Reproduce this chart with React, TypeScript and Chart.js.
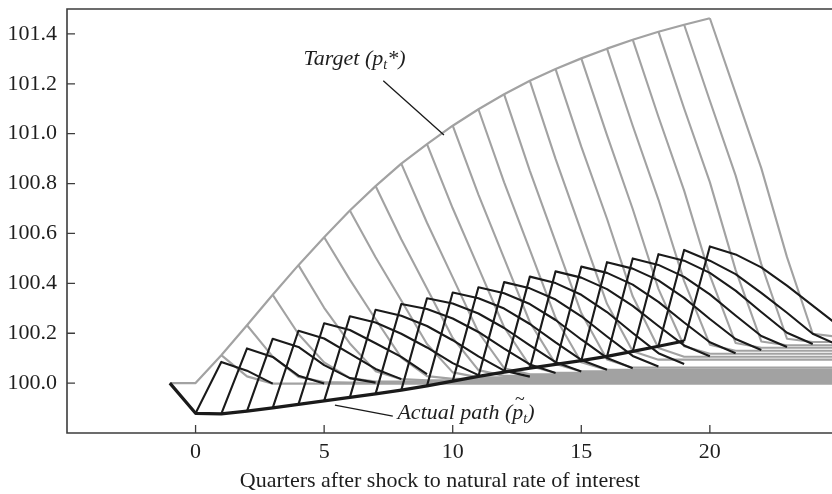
import { useEffect, useRef } from 'react';
import { Chart, registerables } from 'chart.js';

Chart.register(...registerables);

// ---- data ----
const targetStart = -1;
const targetPath = [
  100.0, 100.0, 100.112, 100.232, 100.354, 100.473, 100.585, 100.692, 100.79, 100.88,
  100.958, 101.032, 101.098, 101.158, 101.212, 101.259, 101.302, 101.341, 101.377,
  101.409, 101.437, 101.463,
];

const actualStart = -1;
const actualPath = [
  100.0, 99.879, 99.877, 99.888, 99.901, 99.915, 99.929, 99.943, 99.957, 99.972,
  99.989, 100.008, 100.027, 100.044, 100.06, 100.075, 100.09, 100.107, 100.127,
  100.148, 100.169,
];

// Forecasts of the target made in quarter 1, 2, ... 20 (first value = target that quarter)
const targetForecastStart = 1;
const targetForecasts = [
  [100.112, 100.027, 99.998],
  [100.232, 100.106, 100.025, 100.004, 100.002],
  [100.354, 100.197, 100.083, 100.02, 100.006],
  [100.473, 100.302, 100.159, 100.048, 100.016, 100.011],
  [100.585, 100.415, 100.256, 100.102, 100.028, 100.017],
  [100.692, 100.505, 100.331, 100.157, 100.043, 100.023],
  [100.79, 100.577, 100.379, 100.181, 100.052, 100.029],
  [100.88, 100.643, 100.424, 100.204, 100.06, 100.035],
  [100.958, 100.701, 100.463, 100.224, 100.069, 100.041],
  [101.032, 100.756, 100.5, 100.244, 100.077, 100.047],
  [101.098, 100.805, 100.534, 100.262, 100.084, 100.053],
  [101.158, 100.851, 100.566, 100.281, 100.095, 100.062],
  [101.212, 100.899, 100.608, 100.318, 100.128, 100.094],
  [101.259, 100.948, 100.659, 100.348, 100.141, 100.106],
  [101.302, 100.994, 100.698, 100.378, 100.148, 100.118],
  [101.341, 101.032, 100.736, 100.409, 100.154, 100.13],
  [101.377, 101.068, 100.772, 100.432, 100.161, 100.142],
  [101.409, 101.101, 100.806, 100.454, 100.167, 100.152],
  [101.437, 101.132, 100.833, 100.477, 100.178, 100.165],
  [101.463, 101.163, 100.862, 100.505, 100.198, 100.185],
];

// Forecasts of the price level made in quarter 0, 1, ... 19 (first value = actual price);
// each is drawn until it meets the flat forecast lines
const priceForecastStart = 0;
const priceForecasts = [
  [99.879, 100.085, 100.05, 99.998],
  [99.877, 100.139, 100.105, 100.03, 99.998],
  [99.888, 100.178, 100.145, 100.072, 100.02, 100.002],
  [99.901, 100.21, 100.179, 100.118, 100.057, 100.016],
  [99.915, 100.24, 100.213, 100.16, 100.105, 100.036],
  [99.929, 100.268, 100.243, 100.198, 100.143, 100.08, 100.032],
  [99.943, 100.294, 100.27, 100.229, 100.172, 100.107, 100.05, 100.026],
  [99.957, 100.317, 100.297, 100.259, 100.205, 100.138, 100.075, 100.041],
  [99.972, 100.34, 100.319, 100.279, 100.221, 100.151, 100.084, 100.047],
  [99.989, 100.363, 100.34, 100.299, 100.237, 100.163, 100.093, 100.054],
  [100.008, 100.384, 100.36, 100.317, 100.253, 100.175, 100.101, 100.06],
  [100.027, 100.405, 100.38, 100.335, 100.268, 100.187, 100.109, 100.067],
  [100.044, 100.427, 100.401, 100.354, 100.285, 100.201, 100.12, 100.077],
  [100.06, 100.448, 100.423, 100.377, 100.31, 100.229, 100.151, 100.108],
  [100.075, 100.467, 100.442, 100.395, 100.326, 100.243, 100.164, 100.12],
  [100.09, 100.485, 100.459, 100.412, 100.342, 100.257, 100.177, 100.133],
  [100.107, 100.5, 100.474, 100.426, 100.356, 100.271, 100.189, 100.145],
  [100.127, 100.517, 100.491, 100.442, 100.371, 100.285, 100.202, 100.157],
  [100.148, 100.534, 100.491, 100.437, 100.362, 100.282, 100.198, 100.152],
  [100.169, 100.548, 100.516, 100.464, 100.391, 100.311, 100.23],
];

const horizonEnd = 25; // target forecasts stay flat at their last value to this quarter
const xTicks = [0, 5, 10, 15, 20];
const yTicks = [100.0, 100.2, 100.4, 100.6, 100.8, 101.0, 101.2, 101.4];
const xTitle = 'Quarters after shock to natural rate of interest';
const targetLabel = ['Target (', 'p', 't', '*)'];
const actualLabel = ['Actual path (', 'p', 't', ')'];

// ---- styling ----
const GRAY = '#a2a2a2';
const BLACK = '#1a1a1a';
const AXIS = '#3c3c3c';
const TEXT = '#1e1e1e';
const FONT = '"Liberation Serif", "DejaVu Serif", serif';

function toPoints(start: number, values: number[], extend: boolean) {
  const pts = values.map((v, i) => ({ x: start + i, y: v }));
  const lastX = start + values.length - 1;
  if (extend && lastX < horizonEnd) pts.push({ x: horizonEnd, y: values[values.length - 1] });
  return pts;
}

function drawParts(ctx: CanvasRenderingContext2D, x: number, y: number, parts: { t: string; size: number; dy: number; tilde?: boolean }[]) {
  let cx = x;
  for (const p of parts) {
    ctx.font = `italic ${p.size}px ${FONT}`;
    ctx.fillText(p.t, cx, y + p.dy);
    const w = ctx.measureText(p.t).width;
    if (p.tilde) {
      ctx.font = `${Math.round(p.size * 0.8)}px ${FONT}`;
      const tw = ctx.measureText('~').width;
      ctx.fillText('~', cx + w / 2 - tw / 2 + 2, y - p.size * 0.62);
    }
    cx += w;
  }
}

const decorPlugin = {
  id: 'decor',
  afterDatasetsDraw(chart: any) {
    const { ctx, chartArea: a, scales } = chart;
    const xs = scales.x;
    const ys = scales.y;
    ctx.save();
    // frame (left, top, bottom)
    ctx.strokeStyle = AXIS;
    ctx.lineWidth = 1.6;
    ctx.beginPath();
    ctx.moveTo(a.right + 2, a.top);
    ctx.lineTo(a.left, a.top);
    ctx.lineTo(a.left, a.bottom);
    ctx.lineTo(a.right + 2, a.bottom);
    ctx.stroke();
    // inward tick marks
    ctx.lineWidth = 1.3;
    ctx.beginPath();
    for (const v of yTicks) {
      const py = ys.getPixelForValue(v);
      ctx.moveTo(a.left, py);
      ctx.lineTo(a.left + 8, py);
    }
    for (const v of xTicks) {
      const px = xs.getPixelForValue(v);
      ctx.moveTo(px, a.bottom);
      ctx.lineTo(px, a.bottom - 8);
    }
    ctx.stroke();

    // annotations
    ctx.fillStyle = TEXT;
    ctx.strokeStyle = BLACK;
    ctx.lineWidth = 1.3;
    ctx.textBaseline = 'alphabetic';
    ctx.textAlign = 'left';
    // target
    drawParts(ctx, xs.getPixelForValue(4.2), ys.getPixelForValue(101.275), [
      { t: targetLabel[0], size: 22, dy: 0 },
      { t: targetLabel[1], size: 22, dy: 0 },
      { t: targetLabel[2], size: 14, dy: 4 },
      { t: targetLabel[3], size: 22, dy: 0 },
    ]);
    ctx.beginPath();
    ctx.moveTo(xs.getPixelForValue(7.3), ys.getPixelForValue(101.212));
    ctx.lineTo(xs.getPixelForValue(9.66), ys.getPixelForValue(100.995));
    ctx.stroke();
    // actual
    drawParts(ctx, xs.getPixelForValue(7.85), ys.getPixelForValue(99.856), [
      { t: actualLabel[0], size: 22, dy: 0 },
      { t: actualLabel[1], size: 22, dy: 0, tilde: true },
      { t: actualLabel[2], size: 14, dy: 4 },
      { t: actualLabel[3], size: 22, dy: 0 },
    ]);
    ctx.beginPath();
    ctx.moveTo(xs.getPixelForValue(5.42), ys.getPixelForValue(99.912));
    ctx.lineTo(xs.getPixelForValue(7.67), ys.getPixelForValue(99.868));
    ctx.stroke();

    // x-axis title
    ctx.font = `22px ${FONT}`;
    ctx.textAlign = 'center';
    ctx.textBaseline = 'middle';
    ctx.fillText(xTitle, xs.getPixelForValue(9.5), a.bottom + 48);
    ctx.restore();
  },
};

export default function App() {
  const ref = useRef<HTMLCanvasElement | null>(null);

  useEffect(() => {
    if (!ref.current) return;
    const line = (data: any[], color: string, width: number) => ({
      data,
      borderColor: color,
      borderWidth: width,
      pointRadius: 0,
      tension: 0,
      fill: false,
      borderJoinStyle: 'round',
      borderCapStyle: 'butt',
    });
    const datasets: any[] = [];
    priceForecasts.forEach((vals, i) => datasets.push(line(toPoints(priceForecastStart + i, vals, false), BLACK, 2.1)));
    datasets.push(line(toPoints(actualStart, actualPath, false), BLACK, 3.2));
    targetForecasts.forEach((vals, i) => datasets.push(line(toPoints(targetForecastStart + i, vals, true), GRAY, 2.1)));
    datasets.push(line(toPoints(targetStart, targetPath, false), GRAY, 2.2));

    const chart = new Chart(ref.current, {
      type: 'line',
      data: { datasets },
      options: {
        animation: false,
        responsive: false,
        maintainAspectRatio: false,
        devicePixelRatio: 1,
        layout: { padding: { top: 9, left: 0, right: 0, bottom: 0 } },
        plugins: { legend: { display: false }, tooltip: { enabled: false } },
        scales: {
          x: {
            type: 'linear',
            min: -5,
            max: 24.75,
            grid: { display: false, drawTicks: false },
            border: { display: false },
            afterBuildTicks: (s: any) => { s.ticks = xTicks.map((v) => ({ value: v })); },
            afterFit: (s: any) => { s.height = 61; s.paddingLeft = 0; s.paddingRight = 0; },
            ticks: {
              padding: 6,
              color: TEXT,
              font: { family: FONT, size: 22 },
              maxRotation: 0,
              autoSkip: false,
              callback: (v: any) => String(v),
            },
          },
          y: {
            type: 'linear',
            min: 99.8,
            max: 101.5,
            grid: { display: false, drawTicks: false },
            border: { display: false },
            afterBuildTicks: (s: any) => { s.ticks = yTicks.map((v) => ({ value: v })); },
            afterFit: (s: any) => { s.width = 67; s.paddingTop = 0; s.paddingBottom = 0; },
            ticks: {
              padding: 10,
              color: TEXT,
              font: { family: FONT, size: 22 },
              autoSkip: false,
              callback: (v: any) => Number(v).toFixed(1),
            },
          },
        },
      },
      plugins: [decorPlugin],
    });
    return () => chart.destroy();
  }, []);

  return (
    <div style={{ position: 'absolute', left: 0, top: 0, width: 832, height: 494, background: '#fff' }}>
      <canvas ref={ref} width={832} height={494} style={{ display: 'block' }} />
    </div>
  );
}
